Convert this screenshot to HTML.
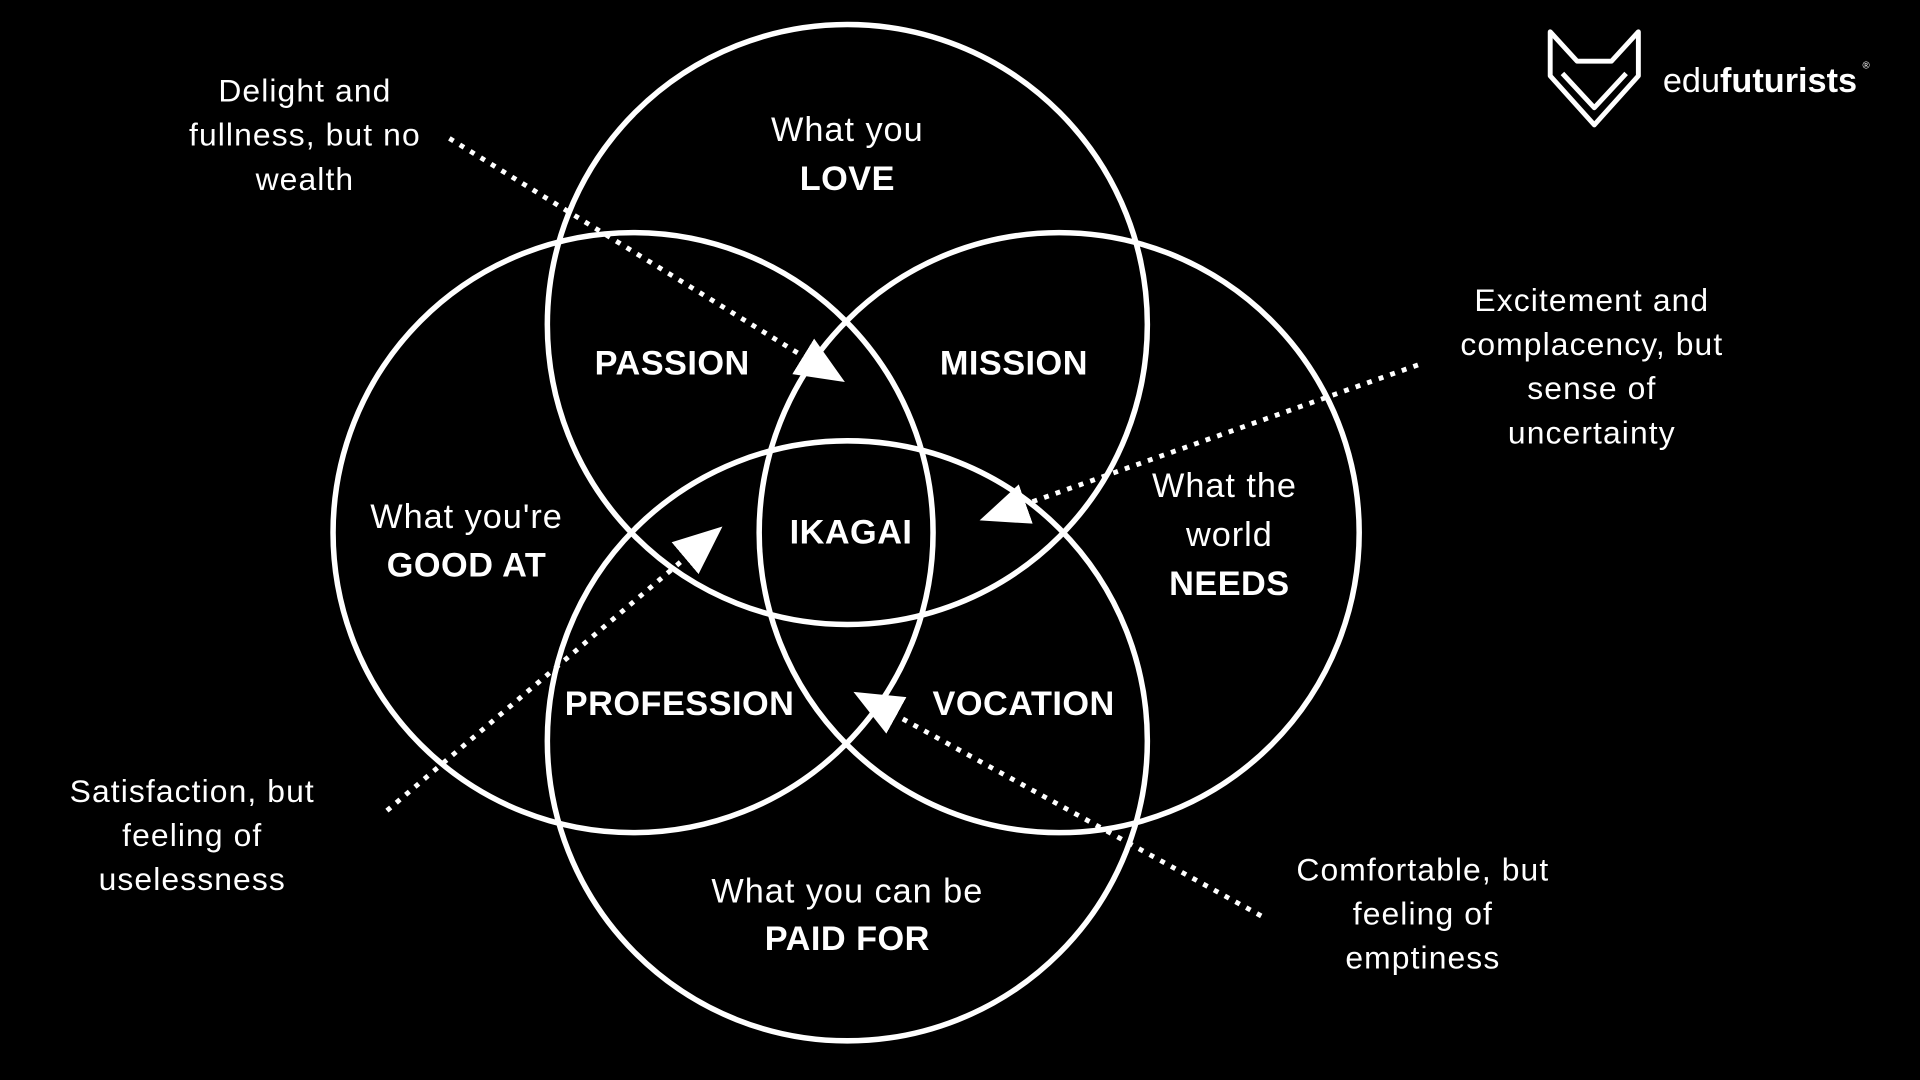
<!DOCTYPE html>
<html><head><meta charset="utf-8"><style>
html,body{margin:0;padding:0;background:#000;}
svg{display:block}
text{font-family:"Liberation Sans","DejaVu Sans",sans-serif;fill:#fff;text-anchor:middle}
.m{font-size:28px;letter-spacing:0.8px}
.b{font-size:28px;font-weight:bold;letter-spacing:0.4px}
.a{font-size:26px;letter-spacing:0.9px}
</style></head><body>
<svg width="1920" height="1080" viewBox="0 0 1568 882" preserveAspectRatio="none">
<defs>
<marker id="ah" markerUnits="userSpaceOnUse" markerWidth="42" markerHeight="36" refX="40" refY="17" orient="auto">
<path d="M0,0 L40,17 L0,34 z" fill="#fff"/>
</marker>
</defs>
<rect width="1568" height="882" fill="#000"/>
<g fill="none" stroke="#fff" stroke-width="4.5">
<circle cx="692" cy="265" r="245"/>
<circle cx="517" cy="435" r="245"/>
<circle cx="865" cy="435" r="245"/>
<circle cx="692" cy="605" r="245"/>
</g>
<g stroke="#fff" stroke-width="4" stroke-dasharray="4 6" marker-end="url(#ah)">
<line x1="367" y1="113" x2="690" y2="312"/>
<line x1="1158" y1="298" x2="800" y2="425"/>
<line x1="316" y1="662" x2="590" y2="430"/>
<line x1="1030" y1="748" x2="697" y2="565"/>
</g>
<text class="m" x="692" y="115">What you</text>
<text class="b" x="692" y="155">LOVE</text>
<text class="b" x="549" y="306">PASSION</text>
<text class="b" x="828" y="306">MISSION</text>
<text class="b" x="695" y="444">IKAGAI</text>
<text class="b" x="555" y="584">PROFESSION</text>
<text class="b" x="836" y="584">VOCATION</text>
<text class="m" x="381" y="431">What you're</text>
<text class="b" x="381" y="471">GOOD AT</text>
<text class="m" x="1000" y="406">What the</text>
<text class="m" x="1004" y="446">world</text>
<text class="b" x="1004" y="486">NEEDS</text>
<text class="m" x="692" y="737">What you can be</text>
<text class="b" x="692" y="776">PAID FOR</text>
<text class="a" x="249" y="83">Delight and</text>
<text class="a" x="249" y="119">fullness, but no</text>
<text class="a" x="249" y="155">wealth</text>
<text class="a" x="1300" y="254">Excitement and</text>
<text class="a" x="1300" y="290">complacency, but</text>
<text class="a" x="1300" y="326">sense of</text>
<text class="a" x="1300" y="362">uncertainty</text>
<text class="a" x="157" y="655">Satisfaction, but</text>
<text class="a" x="157" y="691">feeling of</text>
<text class="a" x="157" y="727">uselessness</text>
<text class="a" x="1162" y="719">Comfortable, but</text>
<text class="a" x="1162" y="755">feeling of</text>
<text class="a" x="1162" y="791">emptiness</text>
<g fill="none" stroke="#fff" stroke-width="4" stroke-linejoin="round">
<path d="M1266,26 L1266,62 L1302,102 L1338,62 L1338,26 L1316,50 L1288,50 Z"/>
<path d="M1276,60 L1302,88 L1328,60"/>
</g>
<text x="1358" y="75" style="font-size:28px;text-anchor:start">edu<tspan font-weight="bold">futurists</tspan></text>
<text x="1524" y="56" style="font-size:8px">®</text>
</svg>
</body></html>
